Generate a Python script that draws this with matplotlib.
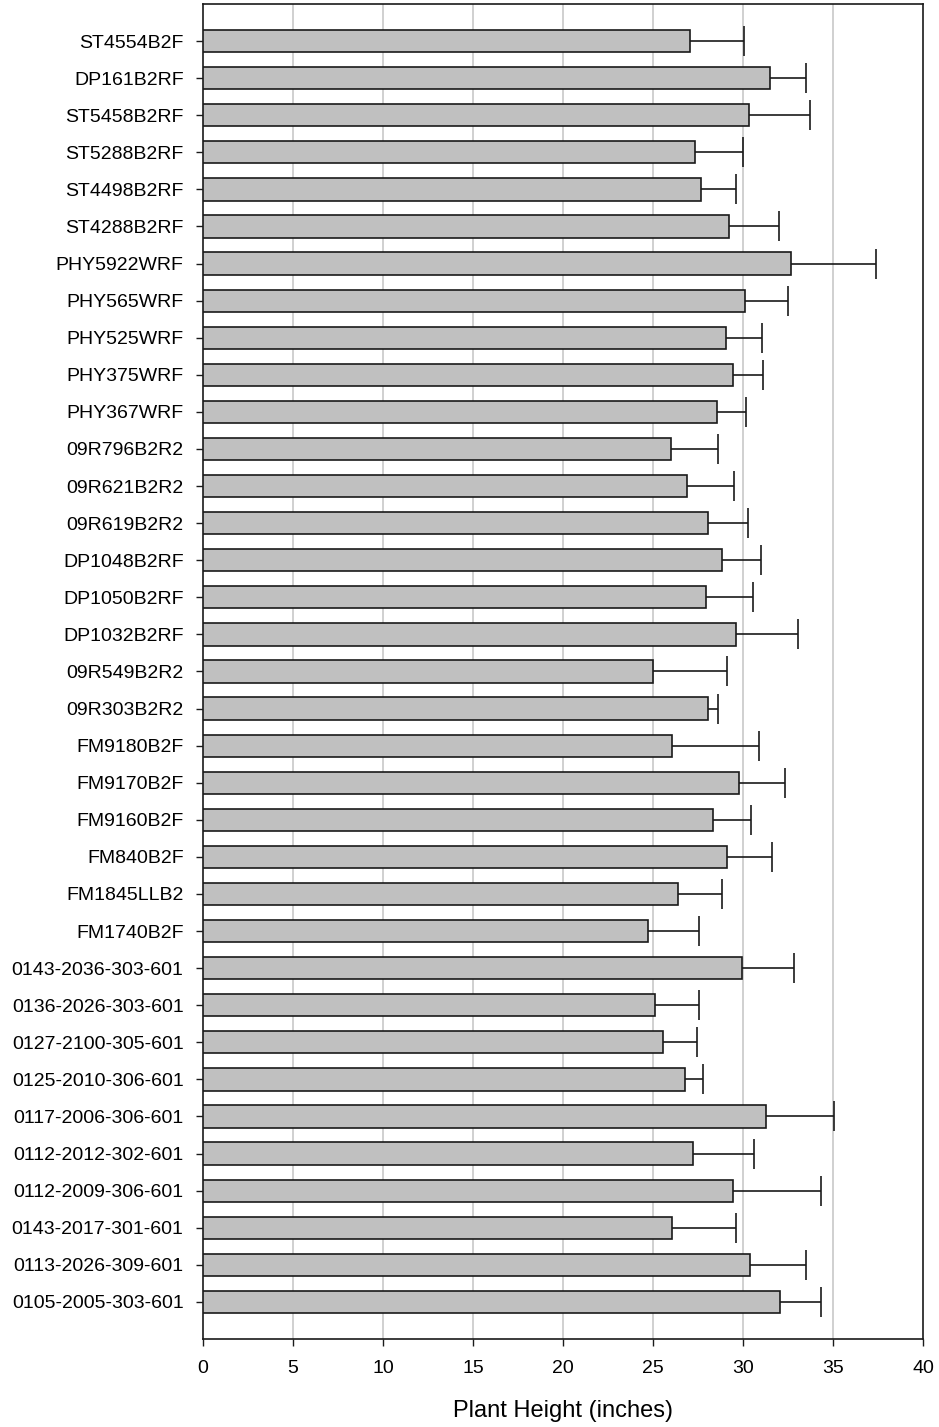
import numpy as np
import matplotlib
matplotlib.use("Agg")
import matplotlib.pyplot as plt

plt.rcParams['font.family'] = ['Liberation Sans', 'DejaVu Sans']

categories = [
    "ST4554B2F", "DP161B2RF", "ST5458B2RF", "ST5288B2RF", "ST4498B2RF",
    "ST4288B2RF", "PHY5922WRF", "PHY565WRF", "PHY525WRF", "PHY375WRF",
    "PHY367WRF", "09R796B2R2", "09R621B2R2", "09R619B2R2", "DP1048B2RF",
    "DP1050B2RF", "DP1032B2RF", "09R549B2R2", "09R303B2R2", "FM9180B2F",
    "FM9170B2F", "FM9160B2F", "FM840B2F", "FM1845LLB2", "FM1740B2F",
    "0143-2036-303-601", "0136-2026-303-601", "0127-2100-305-601",
    "0125-2010-306-601", "0117-2006-306-601", "0112-2012-302-601",
    "0112-2009-306-601", "0143-2017-301-601", "0113-2026-309-601",
    "0105-2005-303-601",
]
heights = [
    27.06, 31.48, 30.31, 27.35, 27.65,
    29.22, 32.65, 30.11, 29.04, 29.43,
    28.54, 25.98, 26.87, 28.04, 28.83,
    27.94, 29.61, 25.00, 28.04, 26.07,
    29.80, 28.35, 29.13, 26.37, 24.70,
    29.93, 25.09, 25.57, 26.76, 31.28,
    27.24, 29.43, 26.07, 30.41, 32.07,
]
errors = [
    3.00, 2.00, 3.41, 2.67, 1.96,
    2.78, 4.74, 2.41, 2.03, 1.68,
    1.63, 2.63, 2.61, 2.26, 2.19,
    2.62, 3.43, 4.13, 0.59, 4.82,
    2.51, 2.09, 2.46, 2.46, 2.86,
    2.90, 2.47, 1.89, 1.02, 3.78,
    3.37, 4.92, 3.56, 3.07, 2.28,
]
xticks = [0, 5, 10, 15, 20, 25, 30, 35, 40]

fig = plt.figure(figsize=(9.39, 14.27), dpi=100)
ax = fig.add_axes([203/939, 1 - 1339/1427, 720/939, 1335/1427])

y = np.arange(len(categories))
ax.barh(y, heights, height=0.6, color="#c0c0c0", edgecolor="#1a1a1a",
        linewidth=1.2, zorder=3)
eb = ax.errorbar(heights, y, xerr=[np.zeros(len(errors)), errors], fmt="none",
                 ecolor="#1a1a1a", elinewidth=1.2, capsize=11, capthick=1.2,
                 zorder=4)
# keep only the caps at the outer (upper) end of each error bar
for cap in eb[1]:
    if np.allclose(cap.get_xdata(), heights):
        cap.set_visible(False)

ax.set_xlim(0, 40)
ax.set_ylim(len(categories), -1)
ax.set_xticks(xticks)
ax.set_xticklabels([str(t) for t in xticks])
ax.set_yticks(y)
ax.set_yticklabels(categories)
ax.tick_params(axis="both", labelsize=14, direction="out", length=5,
               width=1, color="#1a1a1a")
ax.tick_params(axis="y", pad=9)
ax.tick_params(axis="x", pad=10)
for t in xticks[1:-1]:
    ax.axvline(t, color="#c8c8c8", linewidth=1.2, zorder=1)
for s in ax.spines.values():
    s.set_linewidth(1.2)
    s.set_color("#1a1a1a")
ax.set_xlabel("Plant Height (inches)", fontsize=17, labelpad=17)

fig.savefig("out.png", dpi=100)
